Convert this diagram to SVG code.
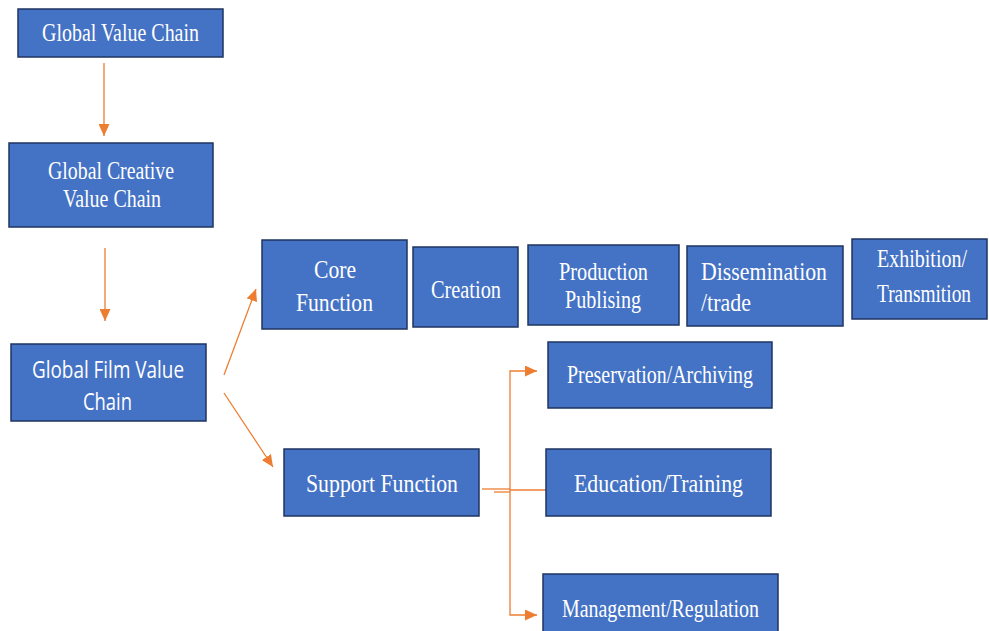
<svg xmlns="http://www.w3.org/2000/svg" width="989" height="631" viewBox="0 0 989 631">
<defs>
<style>
.box{fill:#4472C4;stroke:#1F3560;stroke-width:1.5}
.t{fill:#FFFFFF;font-family:"Liberation Serif","Times New Roman",serif;font-size:25px}
.s{fill:#FFFFFF;font-family:"Open Sans","Liberation Sans",Arial,sans-serif;font-size:23px}
.c{stroke:#ED7D31;stroke-width:1.3;fill:none}
</style>
<marker id="ah" viewBox="0 0 12 11" refX="12" refY="5.5" markerWidth="12" markerHeight="11" markerUnits="userSpaceOnUse" orient="auto">
<path d="M0,0 L12,5.5 L0,11 Z" fill="#ED7D31"/>
</marker>
</defs>
<rect width="989" height="631" fill="#FFFFFF"/>
<g id="connectors">
<line class="c" x1="104" y1="63" x2="104" y2="136" marker-end="url(#ah)"/>
<line class="c" x1="105" y1="248" x2="105" y2="321" marker-end="url(#ah)"/>
<line class="c" x1="224" y1="375" x2="256" y2="289" marker-end="url(#ah)"/>
<line class="c" x1="224" y1="393" x2="273" y2="467" marker-end="url(#ah)"/>
<line class="c" x1="482" y1="489" x2="510" y2="489"/>
<line class="c" x1="494" y1="492" x2="510" y2="492"/>
<line class="c" x1="510" y1="490" x2="546" y2="490"/>
<polyline class="c" points="510,490 510,371 537,371" marker-end="url(#ah)"/>
<polyline class="c" points="510,490 510,615 537,615" marker-end="url(#ah)"/>
</g>
<g id="global-value-chain">
<rect class="box" x="18" y="9" width="205" height="48"/>
<text class="t" x="42" y="41" textLength="157" lengthAdjust="spacingAndGlyphs">Global Value Chain</text>
</g>
<g id="global-creative-value-chain">
<rect class="box" x="9" y="143" width="204" height="84"/>
<text class="t" x="48" y="179" textLength="126" lengthAdjust="spacingAndGlyphs">Global Creative</text>
<text class="t" x="63" y="207" textLength="98" lengthAdjust="spacingAndGlyphs">Value Chain</text>
</g>
<g id="global-film-value-chain">
<rect class="box" x="11" y="344" width="195" height="77"/>
<text class="s" x="32" y="378" textLength="152" lengthAdjust="spacingAndGlyphs">Global Film Value</text>
<text class="s" x="83" y="410" textLength="49" lengthAdjust="spacingAndGlyphs">Chain</text>
</g>
<g id="core-function">
<rect class="box" x="262" y="240" width="145" height="89"/>
<text class="t" x="314" y="278" textLength="42" lengthAdjust="spacingAndGlyphs">Core</text>
<text class="t" x="296" y="311" textLength="77" lengthAdjust="spacingAndGlyphs">Function</text>
</g>
<g id="creation">
<rect class="box" x="413" y="247" width="105" height="80"/>
<text class="t" x="431" y="298" textLength="70" lengthAdjust="spacingAndGlyphs">Creation</text>
</g>
<g id="production">
<rect class="box" x="528" y="245" width="151" height="80"/>
<text class="t" x="559" y="280" textLength="89" lengthAdjust="spacingAndGlyphs">Production</text>
<text class="t" x="565" y="308" textLength="76" lengthAdjust="spacingAndGlyphs">Publising</text>
</g>
<g id="dissemination">
<rect class="box" x="687" y="246" width="156" height="80"/>
<text class="t" x="701" y="280" textLength="126" lengthAdjust="spacingAndGlyphs">Dissemination</text>
<text class="t" x="701" y="311" textLength="50" lengthAdjust="spacingAndGlyphs">/trade</text>
</g>
<g id="exhibition">
<rect class="box" x="852" y="239" width="135" height="80"/>
<text class="t" x="922" y="267" text-anchor="middle" font-size="22" textLength="90" lengthAdjust="spacingAndGlyphs">Exhibition/</text>
<text class="t" x="924" y="302" text-anchor="middle" font-size="22" textLength="94" lengthAdjust="spacingAndGlyphs">Transmition</text>
</g>
<g id="support-function">
<rect class="box" x="284" y="449" width="195" height="67"/>
<text class="t" x="306" y="492" textLength="152" lengthAdjust="spacingAndGlyphs">Support Function</text>
</g>
<g id="preservation">
<rect class="box" x="548" y="342" width="224" height="66"/>
<text class="t" x="567" y="383" textLength="186" lengthAdjust="spacingAndGlyphs">Preservation/Archiving</text>
</g>
<g id="education">
<rect class="box" x="546" y="449" width="225" height="67"/>
<text class="t" x="574" y="492" textLength="169" lengthAdjust="spacingAndGlyphs">Education/Training</text>
</g>
<g id="management">
<rect class="box" x="543" y="574" width="235" height="70"/>
<text class="t" x="562" y="617" textLength="197" lengthAdjust="spacingAndGlyphs">Management/Regulation</text>
</g>
</svg>
